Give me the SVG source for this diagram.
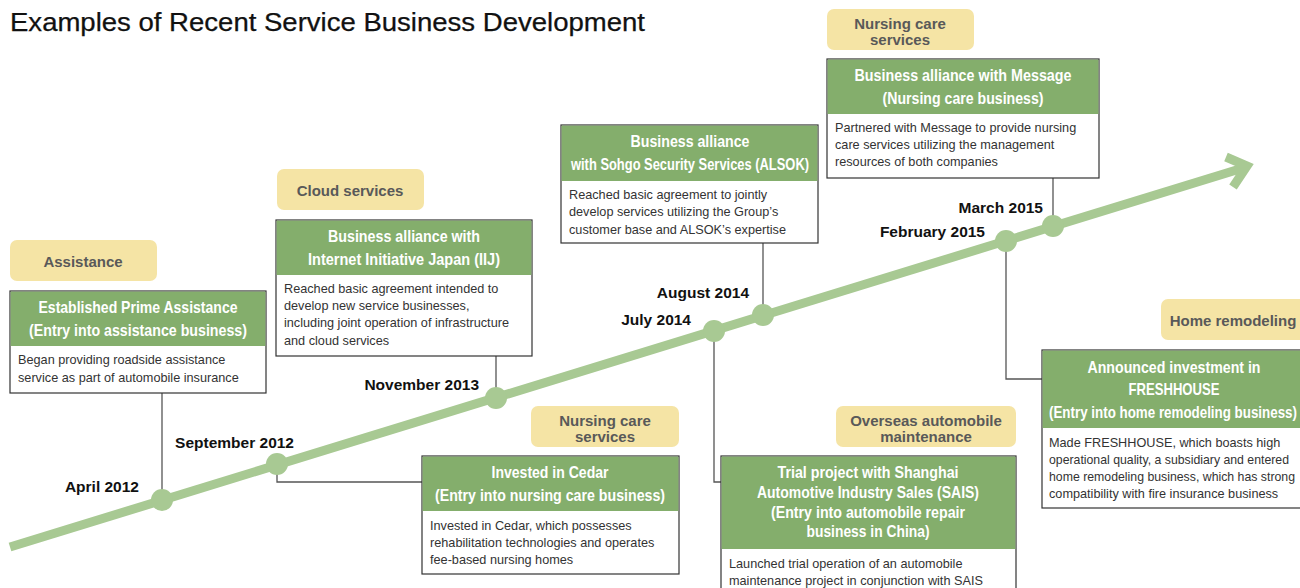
<svg xmlns="http://www.w3.org/2000/svg" width="1300" height="588" viewBox="0 0 1300 588">
<style>
.title{font-family:"Liberation Sans",Arial,sans-serif;font-size:25px;fill:#111;stroke:#111;stroke-width:0.25}
.tag{fill:#f5e4a5}
.tagt{font-family:"Liberation Sans",Arial,sans-serif;font-size:15px;font-weight:bold;fill:#595959;text-anchor:middle}
.box{fill:#fff;stroke:#333;stroke-width:1.2}
.hdr{fill:#84ae6c}
.ht{font-family:"Liberation Sans Narrow","Liberation Sans",Arial,sans-serif;font-size:17px;font-weight:bold;fill:#fff;text-anchor:middle}
.bt{font-family:"Liberation Sans",Arial,sans-serif;font-size:12.7px;fill:#333}
.date{font-family:"Liberation Sans",Arial,sans-serif;font-size:15.5px;font-weight:bold;fill:#111;text-anchor:end}
.conn{fill:none;stroke:#555;stroke-width:1.3}
.dot{fill:#a8c993}
</style>
<rect width="1300" height="588" fill="#fff"/>
<text class="title" x="10" y="31" textLength="635" lengthAdjust="spacingAndGlyphs">Examples of Recent Service Business Development</text>

<g id="connectors">
<line class="conn" x1="162" y1="393" x2="162" y2="500"/>
<line class="conn" x1="496" y1="356" x2="496" y2="398"/>
<line class="conn" x1="763" y1="243" x2="763" y2="314"/>
<line class="conn" x1="1053" y1="178" x2="1053" y2="226"/>
<polyline class="conn" points="277,463 277,482 422,482"/>
<polyline class="conn" points="714,331 714,482 721,482"/>
<polyline class="conn" points="1006,241 1006,379 1042,379"/>
</g>

<g id="timeline">
<line x1="10" y1="547" x2="1243" y2="168" stroke="#a8c993" stroke-width="9"/>
<polyline points="1226,157 1247,166 1233,187" fill="none" stroke="#a8c993" stroke-width="9" stroke-linejoin="miter" stroke-miterlimit="10"/>
<circle class="dot" cx="162" cy="500" r="11"/>
<circle class="dot" cx="277" cy="464" r="11"/>
<circle class="dot" cx="496" cy="398" r="11"/>
<circle class="dot" cx="714" cy="331" r="11"/>
<circle class="dot" cx="763" cy="315" r="11"/>
<circle class="dot" cx="1006" cy="241" r="11"/>
<circle class="dot" cx="1053" cy="226" r="11"/>
<text class="date" x="139" y="492">April 2012</text>
<text class="date" x="294" y="448">September 2012</text>
<text class="date" x="479" y="390">November 2013</text>
<text class="date" x="691" y="325">July 2014</text>
<text class="date" x="749" y="298">August 2014</text>
<text class="date" x="985" y="237">February 2015</text>
<text class="date" x="1043" y="213">March 2015</text>
</g>

<g id="tag-assistance">
<rect class="tag" x="10" y="240" width="147" height="41" rx="7"/>
<text class="tagt" x="83" y="267">Assistance</text>
</g>
<g id="tag-cloud">
<rect class="tag" x="277" y="169" width="147" height="41" rx="7"/>
<text class="tagt" x="350" y="196">Cloud services</text>
</g>
<g id="tag-nursing-top">
<rect class="tag" x="827" y="9" width="147" height="41" rx="7"/>
<text class="tagt" x="900" y="29">Nursing care</text>
<text class="tagt" x="900" y="45">services</text>
</g>
<g id="tag-nursing-bottom">
<rect class="tag" x="531" y="406" width="148" height="41" rx="7"/>
<text class="tagt" x="605" y="426">Nursing care</text>
<text class="tagt" x="605" y="442">services</text>
</g>
<g id="tag-overseas">
<rect class="tag" x="836" y="406" width="180" height="41" rx="7"/>
<text class="tagt" x="926" y="426">Overseas automobile</text>
<text class="tagt" x="926" y="442">maintenance</text>
</g>
<g id="tag-home">
<rect class="tag" x="1161" y="299" width="150" height="41" rx="7"/>
<text class="tagt" x="1233" y="326">Home remodeling</text>
</g>

<g id="box-prime">
<rect class="box" x="10" y="291" width="256" height="102"/>
<rect class="hdr" x="10.6" y="291.6" width="254.8" height="54.4"/>
<text class="ht" x="138" y="313" textLength="199" lengthAdjust="spacingAndGlyphs">Established Prime Assistance</text>
<text class="ht" x="138" y="336" textLength="218" lengthAdjust="spacingAndGlyphs">(Entry into assistance business)</text>
<text class="bt" x="18" y="364">Began providing roadside assistance</text>
<text class="bt" x="18" y="382">service as part of automobile insurance</text>
</g>

<g id="box-iij">
<rect class="box" x="276" y="220" width="256" height="136"/>
<rect class="hdr" x="276.6" y="220.6" width="254.8" height="54.4"/>
<text class="ht" x="404" y="242" textLength="152" lengthAdjust="spacingAndGlyphs">Business alliance with</text>
<text class="ht" x="404" y="265" textLength="192" lengthAdjust="spacingAndGlyphs">Internet Initiative Japan (IIJ)</text>
<text class="bt" x="284" y="293">Reached basic agreement intended to</text>
<text class="bt" x="284" y="310">develop new service businesses,</text>
<text class="bt" x="284" y="327">including joint operation of infrastructure</text>
<text class="bt" x="284" y="345">and cloud services</text>
</g>

<g id="box-alsok">
<rect class="box" x="561" y="125" width="257" height="118"/>
<rect class="hdr" x="561.6" y="125.6" width="255.8" height="55.4"/>
<text class="ht" x="690" y="147" textLength="119" lengthAdjust="spacingAndGlyphs">Business alliance</text>
<text class="ht" x="690" y="170" textLength="238" lengthAdjust="spacingAndGlyphs">with Sohgo Security Services (ALSOK)</text>
<text class="bt" x="569" y="199">Reached basic agreement to jointly</text>
<text class="bt" x="569" y="216">develop services utilizing the Group’s</text>
<text class="bt" x="569" y="234">customer base and ALSOK’s expertise</text>
</g>

<g id="box-message">
<rect class="box" x="827" y="59" width="272" height="119"/>
<rect class="hdr" x="827.6" y="59.6" width="270.8" height="54.4"/>
<text class="ht" x="963" y="81" textLength="217" lengthAdjust="spacingAndGlyphs">Business alliance with Message</text>
<text class="ht" x="963" y="104" textLength="161" lengthAdjust="spacingAndGlyphs">(Nursing care business)</text>
<text class="bt" x="835" y="132">Partnered with Message to provide nursing</text>
<text class="bt" x="835" y="149">care services utilizing the management</text>
<text class="bt" x="835" y="166">resources of both companies</text>
</g>

<g id="box-cedar">
<rect class="box" x="422" y="456" width="257" height="118"/>
<rect class="hdr" x="422.6" y="456.6" width="255.8" height="54.4"/>
<text class="ht" x="550" y="478" textLength="117" lengthAdjust="spacingAndGlyphs">Invested in Cedar</text>
<text class="ht" x="550" y="501" textLength="230" lengthAdjust="spacingAndGlyphs">(Entry into nursing care business)</text>
<text class="bt" x="430" y="530">Invested in Cedar, which possesses</text>
<text class="bt" x="430" y="547">rehabilitation technologies and operates</text>
<text class="bt" x="430" y="564">fee-based nursing homes</text>
</g>

<g id="box-sais">
<rect class="box" x="721" y="456" width="295" height="150"/>
<rect class="hdr" x="721.6" y="456.6" width="293.8" height="92.4"/>
<text class="ht" x="868" y="478" textLength="181" lengthAdjust="spacingAndGlyphs">Trial project with Shanghai</text>
<text class="ht" x="868" y="498" textLength="222" lengthAdjust="spacingAndGlyphs">Automotive Industry Sales (SAIS)</text>
<text class="ht" x="868" y="518" textLength="194" lengthAdjust="spacingAndGlyphs">(Entry into automobile repair</text>
<text class="ht" x="868" y="537" textLength="123" lengthAdjust="spacingAndGlyphs">business in China)</text>
<text class="bt" x="729" y="568">Launched trial operation of an automobile</text>
<text class="bt" x="729" y="585">maintenance project in conjunction with SAIS</text>
</g>

<g id="box-freshhouse">
<rect class="box" x="1042" y="350" width="270" height="158"/>
<rect class="hdr" x="1042.6" y="350.6" width="268.8" height="77.4"/>
<text class="ht" x="1174" y="373" textLength="173" lengthAdjust="spacingAndGlyphs">Announced investment in</text>
<text class="ht" x="1174" y="395" textLength="91" lengthAdjust="spacingAndGlyphs">FRESHHOUSE</text>
<text class="ht" x="1173" y="418" textLength="248" lengthAdjust="spacingAndGlyphs">(Entry into home remodeling business)</text>
<text class="bt" x="1049" y="447">Made FRESHHOUSE, which boasts high</text>
<text class="bt" x="1049" y="464" textLength="240" lengthAdjust="spacingAndGlyphs">operational quality, a subsidiary and entered</text>
<text class="bt" x="1049" y="481" textLength="246" lengthAdjust="spacingAndGlyphs">home remodeling business, which has strong</text>
<text class="bt" x="1049" y="498">compatibility with fire insurance business</text>
</g>
</svg>
